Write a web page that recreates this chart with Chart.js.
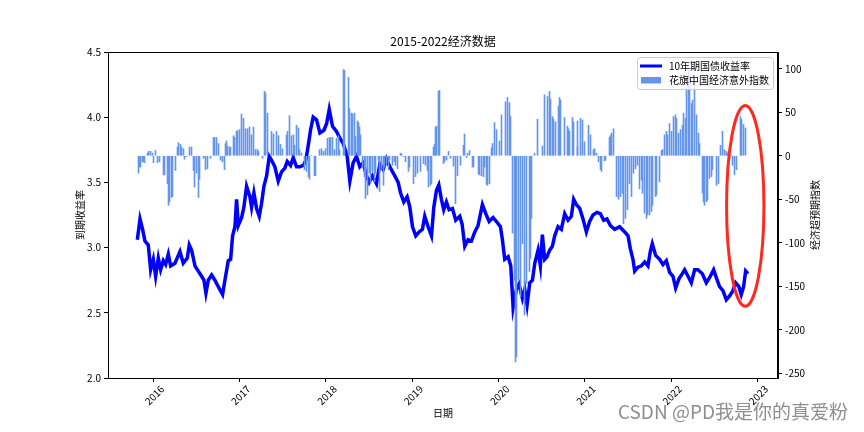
<!DOCTYPE html>
<html>
<head>
<meta charset="utf-8">
<script src="https://cdn.jsdelivr.net/npm/chart.js@4.4.1/dist/chart.umd.min.js"></script>
<style>
  body { margin: 0; background: #fff; }
</style>
</head>
<body>
<canvas id="chart" width="864" height="432"></canvas>
<script>
// 10年期国债收益率 (dates as decimal years)
const yieldDates = [
  2015.815, 2015.846, 2015.876, 2015.903, 2015.942, 2015.969, 2016.000, 2016.027, 2016.058, 2016.085,
  2016.116, 2016.143, 2016.174, 2016.201, 2016.251, 2016.309, 2016.347, 2016.394, 2016.417, 2016.444,
  2016.483, 2016.521, 2016.560, 2016.587, 2016.610, 2016.637, 2016.676, 2016.714, 2016.753, 2016.803,
  2016.830, 2016.869, 2016.896, 2016.919, 2016.946, 2016.965, 2016.985, 2017.023, 2017.050, 2017.081,
  2017.120, 2017.139, 2017.166, 2017.197, 2017.228, 2017.255, 2017.282, 2017.313, 2017.344, 2017.371,
  2017.409, 2017.448, 2017.486, 2017.525, 2017.552, 2017.591, 2017.622, 2017.660, 2017.699, 2017.737,
  2017.768, 2017.795, 2017.822, 2017.853, 2017.892, 2017.931, 2017.977, 2018.008, 2018.039, 2018.077,
  2018.123, 2018.162, 2018.200, 2018.247, 2018.278, 2018.316, 2018.355, 2018.393, 2018.432, 2018.471,
  2018.502, 2018.540, 2018.587, 2018.625, 2018.664, 2018.702, 2018.741, 2018.799, 2018.838, 2018.865,
  2018.903, 2018.942, 2018.973, 2019.004, 2019.042, 2019.081, 2019.119, 2019.146, 2019.185, 2019.224,
  2019.251, 2019.282, 2019.309, 2019.339, 2019.366, 2019.397, 2019.428, 2019.467, 2019.505, 2019.552,
  2019.579, 2019.610, 2019.648, 2019.687, 2019.726, 2019.764, 2019.814, 2019.853, 2019.892, 2019.938,
  2019.977, 2020.023, 2020.046, 2020.073, 2020.112, 2020.143, 2020.170, 2020.208, 2020.239, 2020.278,
  2020.305, 2020.332, 2020.363, 2020.394, 2020.421, 2020.459, 2020.486, 2020.509, 2020.536, 2020.563,
  2020.594, 2020.625, 2020.652, 2020.691, 2020.729, 2020.768, 2020.807, 2020.845, 2020.872, 2020.903,
  2020.942, 2020.980, 2021.019, 2021.057, 2021.096, 2021.142, 2021.181, 2021.220, 2021.258, 2021.297,
  2021.347, 2021.405, 2021.463, 2021.502, 2021.529, 2021.559, 2021.579, 2021.617, 2021.656, 2021.695,
  2021.733, 2021.760, 2021.783, 2021.822, 2021.868, 2021.907, 2021.946, 2021.984, 2022.023, 2022.054,
  2022.092, 2022.131, 2022.158, 2022.197, 2022.235, 2022.274, 2022.312, 2022.363, 2022.409, 2022.455,
  2022.494, 2022.525, 2022.563, 2022.602, 2022.641, 2022.679, 2022.718, 2022.749, 2022.787, 2022.814,
  2022.841, 2022.865, 2022.892
]
const yieldValues = [
  3.06, 3.22, 3.14, 3.05, 3.02, 2.83, 2.91, 2.78, 2.92, 2.83,
  2.90, 2.87, 2.95, 2.86, 2.88, 2.97, 2.88, 2.92, 3.02, 2.98,
  2.86, 2.82, 2.78, 2.75, 2.65, 2.75, 2.79, 2.75, 2.70, 2.64,
  2.75, 2.90, 2.91, 3.09, 3.16, 3.37, 3.17, 3.23, 3.31, 3.47,
  3.39, 3.31, 3.42, 3.30, 3.24, 3.34, 3.47, 3.55, 3.70, 3.67,
  3.62, 3.51, 3.58, 3.61, 3.66, 3.63, 3.69, 3.62, 3.62, 3.63,
  3.67, 3.78, 3.90, 4.00, 3.98, 3.88, 3.90, 3.95, 4.06, 3.93,
  3.89, 3.84, 3.80, 3.70, 3.51, 3.65, 3.70, 3.62, 3.65, 3.55,
  3.50, 3.55, 3.49, 3.64, 3.60, 3.68, 3.62, 3.55, 3.50, 3.42,
  3.35, 3.39, 3.31, 3.16, 3.09, 3.12, 3.14, 3.24, 3.16, 3.09,
  3.31, 3.44, 3.48, 3.37, 3.29, 3.35, 3.29, 3.30, 3.21, 3.24,
  3.18, 3.01, 3.06, 3.05, 3.12, 3.17, 3.33, 3.26, 3.20, 3.23,
  3.20, 3.16, 3.06, 2.91, 2.93, 2.86, 2.54, 2.68, 2.72, 2.61,
  2.68, 2.56, 2.73, 2.75, 2.88, 2.98, 2.86, 3.10, 2.91, 2.93,
  2.98, 3.01, 3.09, 3.16, 3.14, 3.26, 3.21, 3.24, 3.37, 3.33,
  3.30, 3.22, 3.12, 3.20, 3.25, 3.27, 3.26, 3.21, 3.22, 3.17,
  3.14, 3.16, 3.12, 3.09, 2.99, 2.91, 2.82, 2.85, 2.86, 2.89,
  2.86, 2.97, 3.03, 2.94, 2.91, 2.87, 2.90, 2.81, 2.78, 2.69,
  2.76, 2.80, 2.83, 2.78, 2.73, 2.83, 2.83, 2.80, 2.73, 2.78,
  2.83, 2.77, 2.70, 2.67, 2.60, 2.63, 2.67, 2.73, 2.70, 2.64,
  2.70, 2.82, 2.80
]

// 花旗中国经济意外指数
const surpriseDates = [
  2015.826, 2015.838, 2015.849, 2015.876, 2015.888, 2015.903, 2015.931, 2015.950, 2015.969, 2015.985,
  2016.000, 2016.023, 2016.046, 2016.077, 2016.116, 2016.135, 2016.162, 2016.174, 2016.193, 2016.212,
  2016.228, 2016.263, 2016.282, 2016.297, 2016.317, 2016.332, 2016.347, 2016.367, 2016.386, 2016.425,
  2016.440, 2016.463, 2016.483, 2016.502, 2016.521, 2016.541, 2016.579, 2016.610, 2016.629, 2016.664,
  2016.695, 2016.714, 2016.734, 2016.761, 2016.780, 2016.803, 2016.822, 2016.834, 2016.849, 2016.865,
  2016.880, 2016.896, 2016.927, 2016.942, 2016.961, 2016.977, 2016.996, 2017.019, 2017.042, 2017.073,
  2017.093, 2017.112, 2017.139, 2017.166, 2017.185, 2017.205, 2017.216, 2017.263, 2017.286, 2017.301,
  2017.320, 2017.371, 2017.390, 2017.429, 2017.448, 2017.471, 2017.494, 2017.544, 2017.560, 2017.579,
  2017.602, 2017.622, 2017.637, 2017.656, 2017.680, 2017.695, 2017.718, 2017.757, 2017.776, 2017.795,
  2017.815, 2017.834, 2017.865, 2017.884, 2017.931, 2017.950, 2017.969, 2018.000, 2018.023, 2018.039,
  2018.058, 2018.077, 2018.097, 2018.124, 2018.143, 2018.162, 2018.200, 2018.216, 2018.258, 2018.278,
  2018.297, 2018.312, 2018.328, 2018.347, 2018.366, 2018.378, 2018.393, 2018.405, 2018.424, 2018.444,
  2018.459, 2018.478, 2018.502, 2018.521, 2018.540, 2018.560, 2018.579, 2018.606, 2018.625, 2018.644,
  2018.664, 2018.683, 2018.702, 2018.722, 2018.741, 2018.768, 2018.791, 2018.810, 2018.826, 2018.861,
  2018.876, 2018.903, 2018.926, 2018.953, 2018.973, 2019.011, 2019.034, 2019.061, 2019.096, 2019.127,
  2019.158, 2019.173, 2019.193, 2019.212, 2019.228, 2019.243, 2019.258, 2019.270, 2019.282, 2019.301,
  2019.312, 2019.359, 2019.378, 2019.397, 2019.424, 2019.444, 2019.475, 2019.505, 2019.525, 2019.560,
  2019.590, 2019.602, 2019.629, 2019.645, 2019.660, 2019.699, 2019.714, 2019.768, 2019.784, 2019.803,
  2019.822, 2019.841, 2019.861, 2019.876, 2019.892, 2019.919, 2019.930, 2019.950, 2019.973, 2020.007,
  2020.038, 2020.085, 2020.104, 2020.124, 2020.143, 2020.158, 2020.181, 2020.197, 2020.212, 2020.231,
  2020.255, 2020.274, 2020.301, 2020.324, 2020.355, 2020.367, 2020.386, 2020.417, 2020.448, 2020.506,
  2020.537, 2020.564, 2020.587, 2020.602, 2020.625, 2020.641, 2020.656, 2020.691, 2020.702, 2020.714,
  2020.760, 2020.795, 2020.811, 2020.826, 2020.853, 2020.872, 2020.911, 2020.922, 2020.949, 2020.969,
  2021.000, 2021.038, 2021.065, 2021.096, 2021.119, 2021.135, 2021.154, 2021.181, 2021.200, 2021.224,
  2021.239, 2021.289, 2021.301, 2021.316, 2021.332, 2021.366, 2021.386, 2021.413, 2021.436, 2021.455,
  2021.474, 2021.494, 2021.521, 2021.540, 2021.567, 2021.586, 2021.606, 2021.637, 2021.656, 2021.675,
  2021.695, 2021.714, 2021.733, 2021.753, 2021.772, 2021.791, 2021.818, 2021.837, 2021.861, 2021.888,
  2021.907, 2021.926, 2021.946, 2021.965, 2021.984, 2022.004, 2022.030, 2022.054, 2022.069, 2022.088,
  2022.112, 2022.131, 2022.146, 2022.169, 2022.185, 2022.200, 2022.216, 2022.239, 2022.254, 2022.270,
  2022.293, 2022.316, 2022.332, 2022.363, 2022.378, 2022.393, 2022.409, 2022.428, 2022.448, 2022.467,
  2022.486, 2022.525, 2022.556, 2022.579, 2022.602, 2022.622, 2022.641, 2022.660, 2022.679, 2022.699,
  2022.718, 2022.737, 2022.757, 2022.803, 2022.822, 2022.841, 2022.860
]
const surpriseValues = [
  -20, -13, -13, -7, -7, -8, 3, 5, 5, 3,
  -8, 6, -8, -7, -22, -22, -32, -57, -53, -48,
  -47, -17, 10, 15, 13, 10, 8, -4, -1, 10,
  10, -17, -36, -20, -48, -27, -3, -16, -15, -3,
  21, 21, 21, 14, -5, -7, -16, 14, 17, 11,
  10, 10, 23, 21, 28, 29, 30, 48, 43, 31,
  31, 33, 24, 33, 7, 7, 5, -3, 74, 72,
  49, 28, 25, 28, 23, 13, 8, 24, 28, 46,
  23, 24, 12, 35, 32, 7, 3, -16, -18, -24,
  -27, 0.5, -23, -23, 7, 8, 5, 8, 20, 21,
  21, 21, 7, 20, 23, 7, 99, 98, 90, 54,
  49, 48, 49, 22, 40, 38, 33, 24, -13, -24,
  -49, -45, -20, -32, -18, -30, -20, -5, -41, -15,
  -34, -13, -9, -16, -5, -11, -7, -11, -15, 3,
  2, -1, -7, -18, -13, -32, -24, -20, -18, -9,
  -11, -17, -36, -34, -32, 10, 13, 33, 34, 74,
  75, -9, -7, -5, 5, -3, -12, -55, -23, -11,
  12, 25, -2, 3, 6, -13, -13, -21, -22, -23,
  -24, -13, -33, -34, -32, 9, 14, 38, 30, 17,
  47, 62, 67, 61, 45, -89, -143, -237, -231, -143,
  -162, -101, -183, -147, -133, -118, -72, 3, 42, 11,
  70, 68, 74, 65, 45, 42, 39, 57, 67, 64,
  44, 34, 31, 28, 44, 39, 40, 10, 43, 41,
  16, 35, 24, 7, 8, 3, -7, -16, -18, -6,
  -5, 21, 23, 26, 31, -47, -50, -47, -43, -78,
  -72, -62, -32, -47, -20, -15, -11, -38, -28, -43,
  -66, -72, -68, -68, -64, -57, -47, -45, -30, 6,
  7, 24, 28, 24, 37, 28, 45, 47, 43, 26,
  30, 35, 49, 43, 79, 101, 95, 60, 64, 85,
  47, 26, 14, -43, -53, -57, -53, -51, -26, -24,
  -16, -34, -32, 12, 28, 7, 5, 3, -2, 1,
  -11, -22, -16, 45, 42, 36, 32
]

const yearTicks = [2016, 2017, 2018, 2019, 2020, 2021, 2022, 2023]
const yieldTicks = [2.0, 2.5, 3.0, 3.5, 4.0, 4.5]
const surpriseTicks = [-250, -200, -150, -100, -50, 0, 50, 100]

const FONT = '"Noto Sans CJK SC", "DejaVu Sans", sans-serif'
Chart.defaults.font.family = FONT
Chart.defaults.font.size = 10
Chart.defaults.color = '#000'

// highlight ellipse round the last months, in data units (x years, left axis)
const markX = [2022.644, 2023.077]
const markY = [4.09, 2.55]

// keep the thin bars crisp: snap each bar centre to a pixel centre
const crispBars = {
  id: 'crispBars',
  afterDatasetsUpdate(chart) {
    chart.getDatasetMeta(1).data.forEach(b => { b.x = Math.floor(b.x) + 0.5 })
  }
}

const extras = {
  id: 'extras',
  afterDraw(chart) {
    const ctx = chart.ctx
    const a = chart.chartArea
    const xs = chart.scales.x, ys = chart.scales.y
    ctx.save()
    // frame
    ctx.strokeStyle = '#000'
    ctx.lineWidth = 1
    ctx.strokeRect(a.left + 0.5, a.top + 0.5, a.right - a.left - 1, a.bottom - a.top)

    // titles
    ctx.fillStyle = '#000'
    ctx.textAlign = 'center'
    ctx.textBaseline = 'middle'
    ctx.font = '12px ' + FONT
    ctx.fillText('2015-2022经济数据', (a.left + a.right) / 2, 41)
    ctx.font = '10px ' + FONT
    ctx.fillText('日期', (a.left + a.right) / 2, 413)
    const midY = (a.top + a.bottom) / 2
    ctx.save(); ctx.translate(80, midY); ctx.rotate(-Math.PI / 2)
    ctx.fillText('到期收益率', 0, 0); ctx.restore()
    ctx.save(); ctx.translate(815, midY); ctx.rotate(-Math.PI / 2)
    ctx.fillText('经济超预期指数', 0, 0); ctx.restore()

    // legend
    const lx = a.right - 141, ly = a.top + 5, lw = 136, lh = 32
    ctx.beginPath()
    ctx.roundRect(lx + 0.5, ly + 0.5, lw, lh, 3)
    ctx.fillStyle = 'rgba(255,255,255,0.8)'
    ctx.fill()
    ctx.strokeStyle = '#cccccc'
    ctx.stroke()
    ctx.strokeStyle = '#0000ff'
    ctx.lineWidth = 3
    ctx.beginPath(); ctx.moveTo(lx + 3, ly + 9); ctx.lineTo(lx + 25, ly + 9); ctx.stroke()
    ctx.fillStyle = '#6495ed'
    ctx.fillRect(lx + 4, ly + 20, 20, 6.5)
    ctx.fillStyle = '#000'
    ctx.textAlign = 'left'
    ctx.fillText('10年期国债收益率', lx + 32, ly + 9.5)
    ctx.fillText('花旗中国经济意外指数', lx + 32, ly + 23.5)

    // red ellipse
    const x0 = xs.getPixelForValue(markX[0]), x1 = xs.getPixelForValue(markX[1])
    const y0 = ys.getPixelForValue(markY[0]), y1 = ys.getPixelForValue(markY[1])
    ctx.strokeStyle = '#ff2a1f'
    ctx.lineWidth = 3
    ctx.beginPath()
    ctx.ellipse((x0 + x1) / 2, (y0 + y1) / 2, (x1 - x0) / 2, (y1 - y0) / 2, 0, 0, Math.PI * 2)
    ctx.stroke()

    // watermark
    ctx.font = '19px ' + FONT
    ctx.textAlign = 'right'
    ctx.lineWidth = 2
    ctx.strokeStyle = 'rgba(255,255,255,0.9)'
    ctx.strokeText('CSDN @PD我是你的真爱粉', 848, 412)
    ctx.fillStyle = '#8f8f8f'
    ctx.fillText('CSDN @PD我是你的真爱粉', 848, 412)
    ctx.restore()
  }
}

const tickGrid = {drawOnChartArea: false, drawTicks: true, tickLength: 4, color: '#000'}

new Chart(document.getElementById('chart'), {
  type: 'bar',
  data: {
    datasets: [
      {
        type: 'line',
        label: '10年期国债收益率',
        data: yieldDates.map((d, i) => ({x: d, y: yieldValues[i]})),
        yAxisID: 'y',
        borderColor: '#0000ff',
        borderWidth: 3.5,
        pointRadius: 0,
        tension: 0,
        order: 1
      },
      {
        type: 'bar',
        label: '花旗中国经济意外指数',
        data: surpriseDates.map((d, i) => ({x: d, y: surpriseValues[i]})),
        yAxisID: 'y1',
        backgroundColor: '#6495ed',
        barThickness: 1,
        order: 0
      }
    ]
  },
  options: {
    responsive: false,
    animation: false,
    devicePixelRatio: 1,
    layout: {padding: {top: 52, left: 0, right: 0, bottom: 0}},
    plugins: {legend: {display: false}, tooltip: {enabled: false}, title: {display: false}},
    scales: {
      x: {
        type: 'linear',
        min: 2015.475,
        max: 2023.24,
        offset: false,
        grid: Object.assign({offset: false}, tickGrid),
        border: {color: '#000'},
        afterBuildTicks: s => { s.ticks = yearTicks.map(v => ({value: v})) },
        afterFit: s => { s.height = 54 },
        ticks: {
          autoSkip: false,
          minRotation: 45,
          maxRotation: 45,
          padding: 1,
          labelOffset: 9,
          callback: v => String(v)
        }
      },
      y: {
        position: 'left',
        min: 2.0,
        max: 4.5,
        grid: tickGrid,
        border: {color: '#000'},
        afterBuildTicks: s => { s.ticks = yieldTicks.map(v => ({value: v})) },
        afterFit: s => { s.width = 108 },
        ticks: {padding: 3, callback: v => v.toFixed(1)}
      },
      y1: {
        position: 'right',
        min: -255.4,
        max: 119.2,
        grid: tickGrid,
        border: {color: '#000'},
        afterBuildTicks: s => { s.ticks = surpriseTicks.map(v => ({value: v})) },
        afterFit: s => { s.width = 86 },
        ticks: {padding: 3, callback: v => String(v)}
      }
    }
  },
  plugins: [crispBars, extras]
})
</script>
</body>
</html>
